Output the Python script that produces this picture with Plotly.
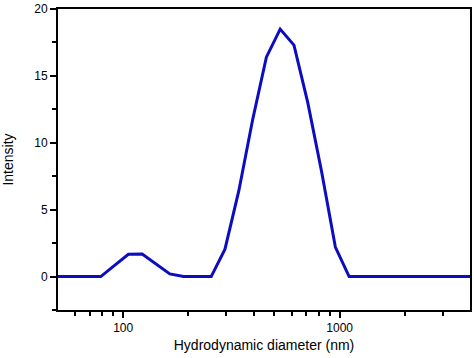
import plotly.graph_objects as go

diameter_nm = [43.82, 50.75, 58.77, 68.06, 78.82, 91.28, 105.7, 122.4, 141.8, 164.2,
               190.1, 220.2, 255.0, 295.3, 342.0, 396.1, 458.7, 531.2, 615.1, 712.4,
               825.0, 955.4, 1106, 1281, 1484, 1718, 1990, 2305, 2669, 3091, 3580, 4145]
intensity = [0, 0, 0, 0, 0, 0.83, 1.66, 1.68, 0.94, 0.2,
             0, 0, 0, 2.05, 6.4, 11.7, 16.4, 18.5, 17.3, 13.0,
             7.85, 2.2, 0, 0, 0, 0, 0, 0, 0, 0, 0, 0]

x_major = [100, 1000]
x_minor = [60, 70, 80, 90, 200, 300, 400, 500, 600, 700, 800, 900, 2000, 3000]
y_major = [0, 5, 10, 15, 20]
y_minor = [-2.5, 2.5, 7.5, 12.5, 17.5]

fig = go.Figure()
fig.add_trace(go.Scatter(x=diameter_nm, y=intensity, mode="lines",
                         line=dict(color="rgb(12,12,192)", width=3),
                         showlegend=False))

font = "Liberation Sans, Arial, sans-serif"
fig.update_layout(
    width=474, height=358,
    margin=dict(l=58, r=2, t=6, b=48),
    paper_bgcolor="white", plot_bgcolor="white",
    font=dict(family=font, color="black", size=12),
)
fig.update_xaxes(
    type="log", range=[1.69897, 3.60206],
    tickvals=x_major, ticktext=[str(v) for v in x_major],
    ticks="outside", ticklen=6, tickwidth=2, tickcolor="black",
    showline=True, linewidth=2, linecolor="black", mirror=True,
    showgrid=False, zeroline=False,
    tickfont=dict(size=12),
    minor=dict(tickvals=x_minor, ticks="outside", ticklen=4, tickwidth=2,
               tickcolor="black", showgrid=False),
    title=dict(text="Hydrodynamic diameter (nm)", font=dict(size=14), standoff=6),
)
fig.update_yaxes(
    range=[-2.5, 20.001],
    tickvals=y_major, ticktext=[str(v) for v in y_major],
    ticklabeloverflow="allow",
    ticks="outside", ticklen=6, tickwidth=2, tickcolor="black",
    showline=True, linewidth=2, linecolor="black", mirror=True,
    showgrid=False, zeroline=False,
    tickfont=dict(size=12),
    minor=dict(tickvals=y_minor, ticks="outside", ticklen=4, tickwidth=2,
               tickcolor="black", showgrid=False),
    title=dict(text="Intensity", font=dict(size=14), standoff=18),
)

fig.write_html("out.html", config={"displayModeBar": False},
               post_script="document.body.style.margin='0px';document.body.style.overflow='hidden';")
